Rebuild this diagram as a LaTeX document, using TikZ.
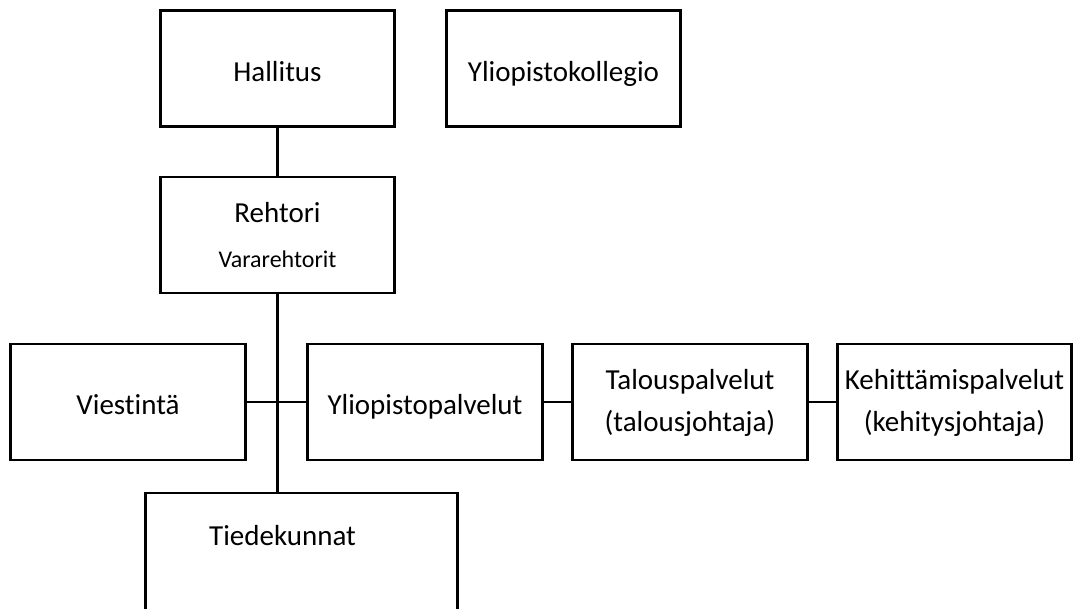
\documentclass[tikz,border=0pt]{standalone}
\usepackage{fontspec}
\setmainfont{Carlito}[Ligatures=NoCommon]
\newcommand{\twolines}[2]{\raisebox{-3pt}{\begin{tabular}{@{}c@{}}#1\\#2\end{tabular}}}
\begin{document}
\begin{tikzpicture}[x=1pt,y=-1pt,
  box/.style={draw=black, line width=2.6pt, fill=white, inner sep=0pt, align=center,
    font=\fontsize{29}{42}\selectfont},
  one/.style={text height=28pt, text depth=3pt},
  conn/.style={line width=2.6pt}]
\clip (0,0) rectangle (1075,608);
\fill[white] (0,0) rectangle (1075,608);
% boxes
\node[box, one, minimum width=234pt, minimum height=116pt] (hal) at (277.5,68.5) {Hallitus};
\node[box, one, minimum width=234pt, minimum height=116pt] (ykol) at (563.5,68.5) {Yliopistokollegio};
\node[box, minimum width=234pt, minimum height=116pt] (reh) at (277.5,235) {Rehtori\\[3pt]{\fontsize{24}{30}\selectfont Vararehtorit}};
\node[box, one, minimum width=235pt, minimum height=116pt] (vie) at (128,402) {Viestintä};
\node[box, one, minimum width=235pt, minimum height=116pt] (ypal) at (425,402) {Yliopistopalvelut};
\node[box, minimum width=235pt, minimum height=116pt] (tal) at (690,402) {\twolines{Talouspalvelut}{(talousjohtaja)}};
\node[box, minimum width=234pt, minimum height=116pt] (keh) at (954.5,402) {\twolines{Kehittämispalvelut}{(kehitysjohtaja)}};
\node[box, minimum width=312pt, minimum height=120pt,
  label={[name=tkt, font=\fontsize{29}{42}\selectfont, xshift=-19pt, yshift=17pt]center:Tiedekunnat}]
  (tie) at (301.5,553) {};
% connectors
\draw[conn] (hal.south) -- (reh.north);
\draw[conn] (reh.south) -- (reh.south |- tie.north);
\draw[conn] (vie.east) -- (ypal.west);
\draw[conn] (ypal.east) -- (tal.west);
\draw[conn] (tal.east) -- (keh.west);
\end{tikzpicture}
\end{document}
